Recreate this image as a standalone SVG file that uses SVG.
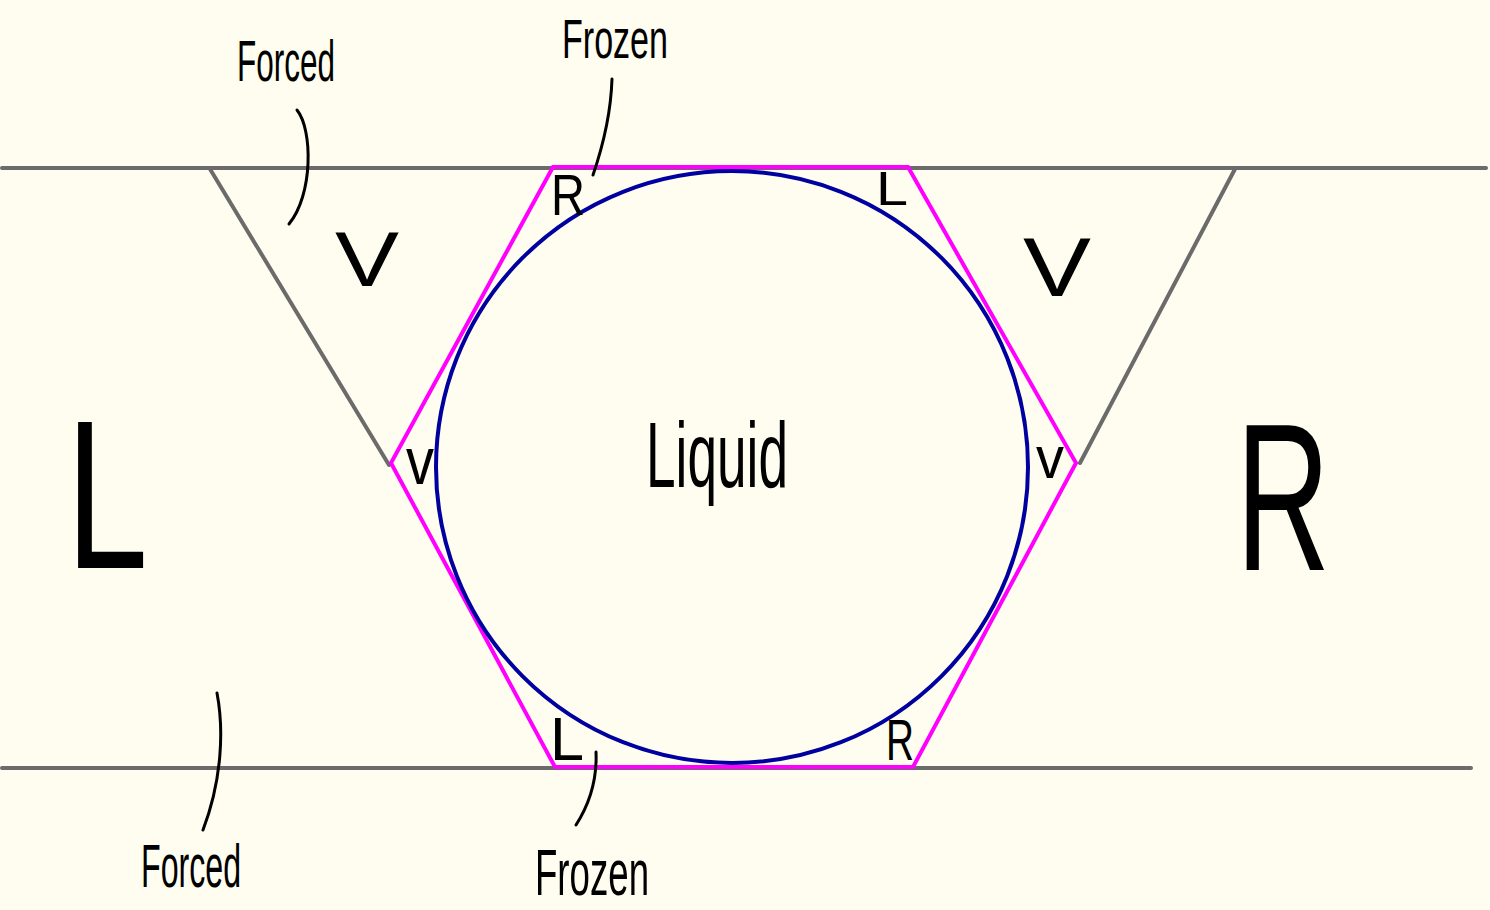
<svg xmlns="http://www.w3.org/2000/svg" width="1490" height="910" viewBox="0 0 1490 910">
<style>
.t{font-family:"Liberation Sans",Arial,sans-serif;fill:#000;}
.gray{stroke:#6b6b6b;stroke-width:4;fill:none;stroke-linecap:round;}
.lead{stroke:#000;stroke-width:3;fill:none;stroke-linecap:round;}
</style>
<rect x="0" y="0" width="1490" height="910" fill="#fffdef"/>
<g id="boundaries">
<line class="gray" x1="2" y1="168" x2="1486" y2="168"/>
<line class="gray" x1="2" y1="768" x2="1471" y2="768"/>
<line class="gray" x1="210" y1="169" x2="389" y2="465"/>
<line class="gray" x1="1235" y1="169" x2="1080" y2="463"/>
</g>
<g id="hexagon">
<polygon points="553,167 908,167 1076,463 913,767 555,767 391,463" fill="none" stroke="#ff00ff" stroke-width="4" stroke-linejoin="miter"/>
</g>
<g id="liquid">
<circle cx="732" cy="467" r="296" fill="none" stroke="#0000a0" stroke-width="4"/>
<text class="t" x="646" y="487" font-size="92" textLength="142" lengthAdjust="spacingAndGlyphs">Liquid</text>
</g>
<g id="region-L"><text class="t" x="66" y="568" font-size="212" textLength="82" lengthAdjust="spacingAndGlyphs">L</text></g>
<g id="region-R"><text class="t" x="1236" y="570" font-size="210" textLength="94" lengthAdjust="spacingAndGlyphs">R</text></g>
<g id="V-left"><text class="t" x="335" y="286" font-size="78" textLength="64" lengthAdjust="spacingAndGlyphs">V</text></g>
<g id="V-right"><text class="t" x="1023" y="296" font-size="84" textLength="68" lengthAdjust="spacingAndGlyphs">V</text></g>
<g id="v-left"><text class="t" x="406" y="484" font-size="66" textLength="28" lengthAdjust="spacingAndGlyphs">v</text></g>
<g id="v-right"><text class="t" x="1036" y="478" font-size="60" textLength="28" lengthAdjust="spacingAndGlyphs">v</text></g>
<g id="corner-R-top"><text class="t" x="551" y="215" font-size="58" textLength="34" lengthAdjust="spacingAndGlyphs">R</text></g>
<g id="corner-L-top"><text class="t" x="876" y="205" font-size="48" textLength="32" lengthAdjust="spacingAndGlyphs">L</text></g>
<g id="corner-L-bottom"><text class="t" x="550" y="760" font-size="62" textLength="34" lengthAdjust="spacingAndGlyphs">L</text></g>
<g id="corner-R-bottom"><text class="t" x="886" y="760" font-size="58" textLength="28" lengthAdjust="spacingAndGlyphs">R</text></g>
<g id="label-forced-top"><text class="t" x="237" y="81" font-size="58" textLength="98" lengthAdjust="spacingAndGlyphs">Forced</text></g>
<g id="label-frozen-top"><text class="t" x="562" y="58" font-size="56" textLength="106" lengthAdjust="spacingAndGlyphs">Frozen</text></g>
<g id="label-forced-bottom"><text class="t" x="141" y="887" font-size="62" textLength="100" lengthAdjust="spacingAndGlyphs">Forced</text></g>
<g id="label-frozen-bottom"><text class="t" x="535" y="895" font-size="64" textLength="114" lengthAdjust="spacingAndGlyphs">Frozen</text></g>
<g id="connectors">
<path class="lead" d="M297,110 C313,130 313,195 289,224"/>
<path class="lead" d="M612,79 C611,110 605,140 593,175"/>
<path class="lead" d="M217,693 C224,730 222,780 203,830"/>
<path class="lead" d="M596,752 C597,775 592,800 576,825"/>
</g>
</svg>
